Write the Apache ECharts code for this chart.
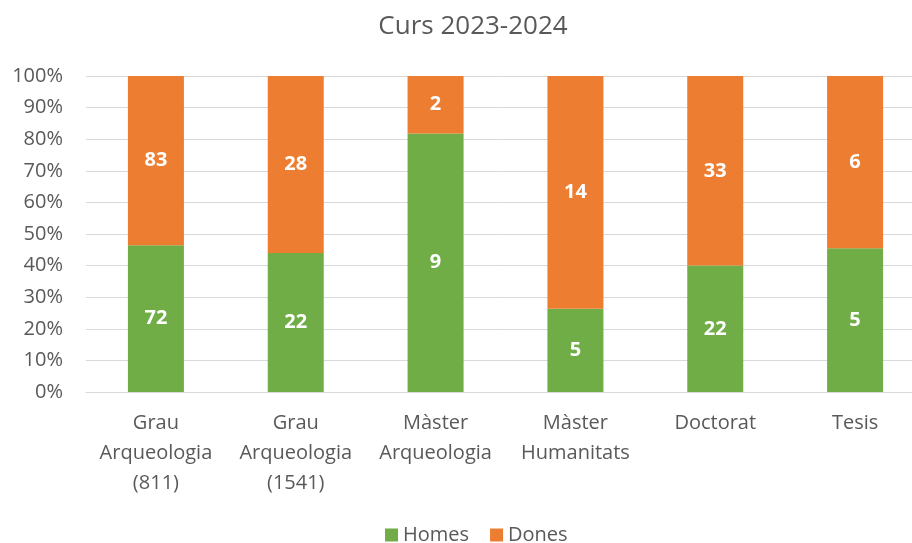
<!DOCTYPE html>
<html>
<head>
<meta charset="utf-8">
<script src="https://cdn.jsdelivr.net/npm/echarts@6/dist/echarts.min.js"></script>
<style>
  html, body { margin: 0; padding: 0; background: #fff; }
  #chart { width: 912px; height: 543px; }
</style>
</head>
<body>
<div id="chart"></div>
<script>
const categories = [
  'Grau\nArqueologia\n(811)',
  'Grau\nArqueologia\n(1541)',
  'Màster\nArqueologia',
  'Màster\nHumanitats',
  'Doctorat',
  'Tesis'
];
const homes = [72, 22, 9, 5, 22, 5];
const dones = [83, 28, 2, 14, 33, 6];

// percentatge de cada grup sobre el total de la columna
const pct = (arr) => arr.map((v, i) => ({ value: v / (homes[i] + dones[i]) * 100, count: v }));

const font = '"Open Sans", sans-serif';
const chart = echarts.init(document.getElementById('chart'));
chart.setOption({
  animation: false,
  textStyle: { fontFamily: font },
  title: {
    text: 'Curs 2023-2024',
    left: 468,
    textAlign: 'center',
    top: 9,
    textStyle: { color: '#595959', fontSize: 26, fontWeight: 'normal', fontFamily: font }
  },
  legend: {
    bottom: -7,
    left: 380,
    itemWidth: 13,
    itemHeight: 13,
    itemGap: 21,
    icon: 'rect',
    textStyle: { color: '#595959', fontSize: 20, fontFamily: font },
    data: ['Homes', 'Dones']
  },
  grid: { left: 86, right: -13, top: 76, bottom: 151, outerBoundsMode: 'none', containLabel: false },
  xAxis: {
    type: 'category',
    data: categories,
    axisLine: { lineStyle: { color: '#d9d9d9' } },
    axisTick: { show: false },
    axisLabel: { color: '#595959', fontSize: 20, lineHeight: 30, margin: 16, fontFamily: font, interval: 0 }
  },
  yAxis: {
    type: 'value',
    min: 0,
    max: 100,
    interval: 10,
    axisLine: { show: false },
    axisTick: { show: false },
    splitLine: { lineStyle: { color: '#d9d9d9', width: 1 } },
    axisLabel: { formatter: '{value}%', color: '#595959', fontSize: 20, margin: 23, fontFamily: font }
  },
  series: [
    {
      name: 'Homes',
      type: 'bar',
      stack: 'total',
      barWidth: 56,
      itemStyle: { color: '#70AD47' },
      label: {
        show: true,
        position: 'inside',
        color: '#fff',
        fontWeight: 'bold',
        fontSize: 20,
        fontFamily: font,
        formatter: (p) => p.data.count
      },
      data: pct(homes)
    },
    {
      name: 'Dones',
      type: 'bar',
      stack: 'total',
      barWidth: 56,
      itemStyle: { color: '#ED7D31' },
      label: {
        show: true,
        position: 'inside',
        color: '#fff',
        fontWeight: 'bold',
        fontSize: 20,
        fontFamily: font,
        formatter: (p) => p.data.count
      },
      data: pct(dones)
    }
  ]
});
</script>
</body>
</html>
